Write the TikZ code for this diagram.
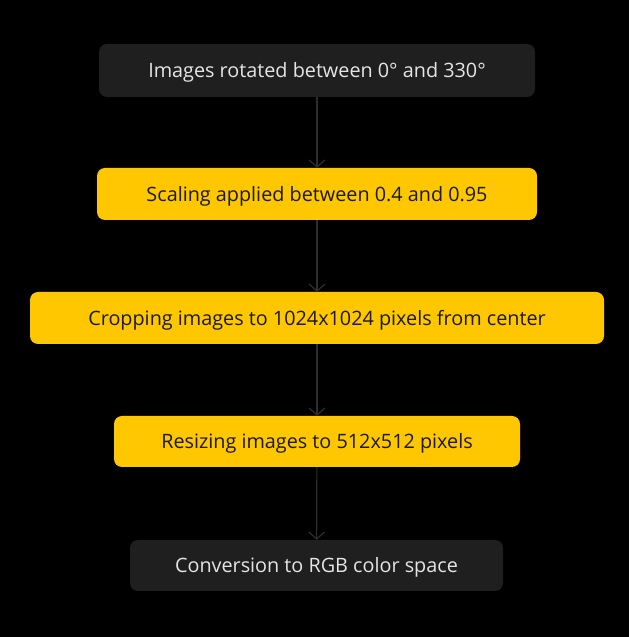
\documentclass[tikz,border=0pt]{standalone}
\usepackage{fontspec}
\setmainfont{Open Sans}
\usetikzlibrary{arrows.meta}
\definecolor{boxdark}{HTML}{1F1F1F}
\definecolor{boxgold}{HTML}{FFC700}
\definecolor{linkgray}{HTML}{2E2E2E}
\tikzset{
  stage/.style={rounded corners=8pt, inner sep=0pt, align=center,
    text height=17pt, text depth=2pt,
    font=\fontsize{19.8}{24}\selectfont},
  darkstage/.style={stage, fill=boxdark, text=white!90!black},
  goldstage/.style={stage, fill=boxgold, text=black!90},
  link/.style={draw=linkgray, line width=1.2pt, -{Straight Barb[length=7pt,width=16pt]}}
}
\begin{document}
\begin{tikzpicture}[x=1pt, y=1pt]
            \useasboundingbox[fill=black] (0, 0) rectangle (629, 637);
            \node[darkstage, minimum width=436, minimum height=53] (rotate) at (317, 566.5) {Images rotated between 0° and 330°};
            \node[goldstage, minimum width=440, minimum height=52] (scale)  at (317, 443)   {Scaling applied between 0.4 and 0.95};
            \node[goldstage, minimum width=574, minimum height=52] (crop)   at (317, 319)   {Cropping images to 1024x1024 pixels from center};
            \node[goldstage, minimum width=406, minimum height=51] (resize) at (317, 195.5) {Resizing images to 512x512 pixels};
            \node[darkstage, minimum width=373, minimum height=51] (rgb)    at (316.5, 71.5) {Conversion to RGB color space};
            \draw[link] (rotate) -- (scale);
            \draw[link] (scale)  -- (crop);
            \draw[link] (crop)   -- (resize);
            \draw[link] (resize) -- (rgb);
        \end{tikzpicture}
\end{document}
